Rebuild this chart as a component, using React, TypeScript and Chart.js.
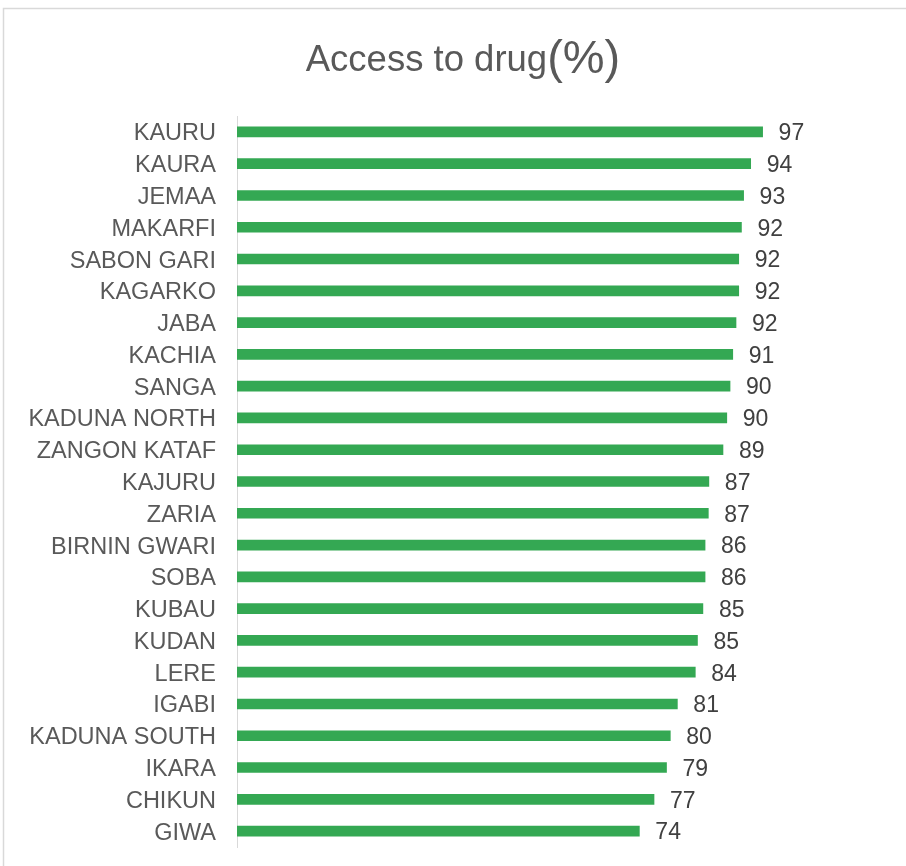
import React, { useEffect, useRef } from "react";
import { Chart, registerables } from "chart.js";

Chart.register(...registerables);

const categories = [
  "KAURU", "KAURA", "JEMAA", "MAKARFI", "SABON GARI", "KAGARKO", "JABA", "KACHIA",
  "SANGA", "KADUNA NORTH", "ZANGON KATAF", "KAJURU", "ZARIA", "BIRNIN GWARI", "SOBA",
  "KUBAU", "KUDAN", "LERE", "IGABI", "KADUNA SOUTH", "IKARA", "CHIKUN", "GIWA",
];
const values = [
  96.8, 94.6, 93.3, 92.9, 92.4, 92.4, 91.9, 91.3,
  90.8, 90.2, 89.5, 86.9, 86.8, 86.2, 86.2,
  85.8, 84.8, 84.4, 81.1, 79.8, 79.1, 76.8, 74.1,
];
const valueLabels = [
  "97", "94", "93", "92", "92", "92", "92", "91",
  "90", "90", "89", "87", "87", "86", "86",
  "85", "85", "84", "81", "80", "79", "77", "74",
];
const titleMain = "Access to drug";
const titleTail = "(%)";

const FONT = "'Liberation Sans', Arial, sans-serif";

const framePlugin = {
  id: "frame",
  beforeDraw(chart: any) {
    const ctx = chart.ctx;
    ctx.save();
    ctx.fillStyle = "#ffffff";
    ctx.fillRect(0, 0, chart.width, chart.height);
    ctx.strokeStyle = "#d9d9d9";
    ctx.lineWidth = 1.5;
    ctx.strokeRect(3.5, 8.5, chart.width + 20, chart.height + 20);
    ctx.restore();
  },
};

const titlePlugin = {
  id: "twoSizeTitle",
  afterDraw(chart: any) {
    const ctx = chart.ctx;
    ctx.save();
    ctx.fillStyle = "#595959";
    ctx.textBaseline = "alphabetic";
    ctx.textAlign = "left";
    const f1 = `36.5px ${FONT}`;
    const f2 = `47px ${FONT}`;
    ctx.font = f1;
    const w1 = ctx.measureText(titleMain).width;
    ctx.font = f2;
    const w2 = ctx.measureText(titleTail).width;
    const cx = 463;
    const x0 = cx - (w1 + w2) / 2;
    const y = 71;
    ctx.font = f1;
    ctx.fillText(titleMain, x0, y);
    ctx.font = f2;
    ctx.fillText(titleTail, x0 + w1, y + 2);
    ctx.restore();
  },
};

const valueLabelPlugin = {
  id: "valueLabels",
  afterDatasetsDraw(chart: any) {
    const ctx = chart.ctx;
    const meta = chart.getDatasetMeta(0);
    ctx.save();
    ctx.fillStyle = "#404040";
    ctx.font = `23px ${FONT}`;
    ctx.textAlign = "left";
    ctx.textBaseline = "middle";
    meta.data.forEach((bar: any, i: number) => {
      ctx.fillText(valueLabels[i], bar.x + 16, bar.y + 2);
    });
    ctx.restore();
  },
};

export default function App() {
  const ref = useRef<HTMLCanvasElement>(null);
  useEffect(() => {
    if (!ref.current) return;
    const chart = new Chart(ref.current, {
      type: "bar",
      data: {
        labels: categories,
        datasets: [
          {
            data: values,
            backgroundColor: "#34a853",
            borderWidth: 0,
            barThickness: 10,
          },
        ],
      },
      options: {
        indexAxis: "y",
        responsive: false,
        animation: false,
        layout: { padding: { top: 116, bottom: 19, left: 0, right: 126 } },
        plugins: {
          legend: { display: false },
          title: { display: false },
          tooltip: { enabled: false },
        },
        scales: {
          x: { display: false, min: 0, max: 100 },
          y: {
            afterFit: (s: any) => {
              s.width = 237;
              s.paddingTop = 0;
              s.paddingBottom = 0;
            },
            grid: { display: false, drawTicks: false },
            border: { display: true, color: "#d9d9d9", width: 1 },
            ticks: {
              color: "#595959",
              padding: 21,
              labelOffset: 2,
              font: { family: FONT, size: 23.5 },
            },
          },
        },
      },
      plugins: [framePlugin, titlePlugin, valueLabelPlugin],
    });
    return () => chart.destroy();
  }, []);
  return (
    <div style={{ position: "absolute", left: 0, top: 0, width: 906, height: 866 }}>
      <canvas ref={ref} width={906} height={866} style={{ display: "block" }} />
    </div>
  );
}
